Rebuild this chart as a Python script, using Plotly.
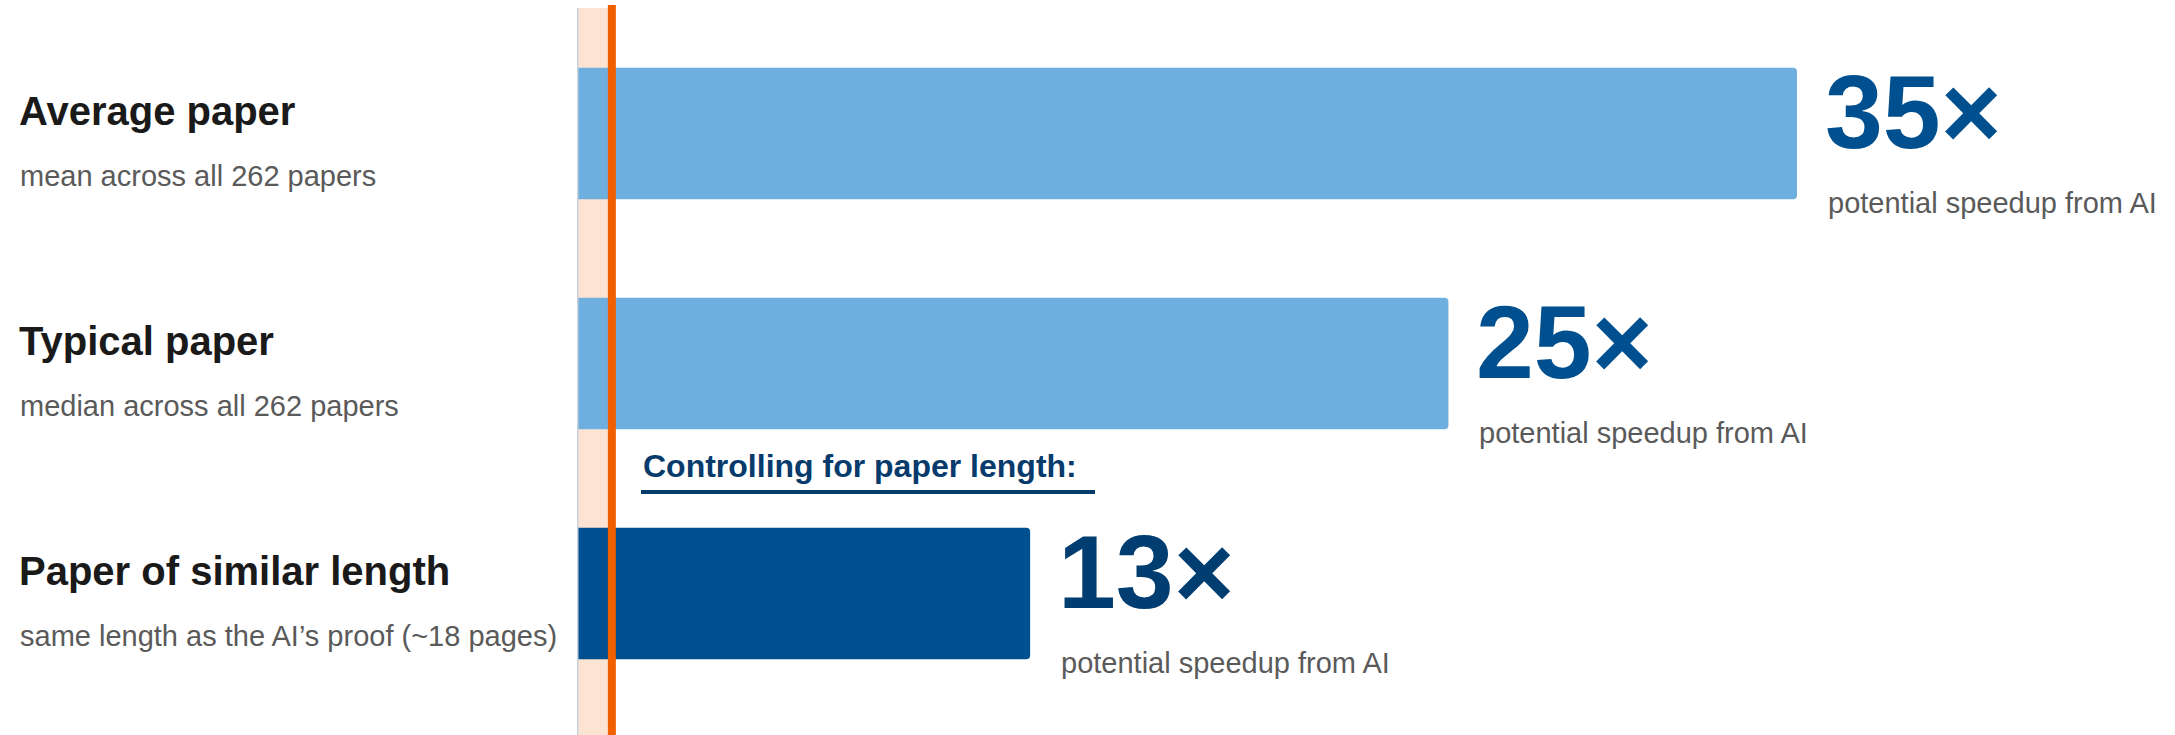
import plotly.graph_objects as go

# ---- data ----
categories = ["Average paper", "Typical paper", "Paper of similar length"]
subtitles = ["mean across all 262 papers", "median across all 262 papers",
             "same length as the AI\u2019s proof (~18 pages)"]
speedup = [35, 25, 13]
value_labels = ["35\u00d7", "25\u00d7", "13\u00d7"]
value_caption = "potential speedup from AI"
baseline_value = 1  # 1x = no speedup
group_label = "Controlling for paper length:"

# ---- style ----
W, H = 2175, 735
ML, MT = 577, 5
PX_PER_UNIT = 34.857
ROW_PX = 230.0
FIRST_CENTER = 133.5
FONT = "Liberation Sans, Arial, Helvetica, sans-serif"
bar_colors = ["#6FAFDF", "#6FAFDF", "#00508F"]
num_colors = ["#00508F", "#00508F", "#003D70"]
navy = "#073B6C"

xmax = (W - ML) / PX_PER_UNIT
ytop = -(FIRST_CENTER - MT) / ROW_PX
ybot = (len(categories) - 1) + (H - (FIRST_CENTER + ROW_PX * (len(categories) - 1))) / ROW_PX
ypos = list(range(len(categories)))

fig = go.Figure(go.Bar(
    x=speedup, y=ypos, orientation="h",
    marker=dict(color=bar_colors, line=dict(width=0)),
    width=0.572, hoverinfo="skip",
))

def mid_shift(baseline_off, fs):
    # convert desired baseline offset (px below row centre) into yshift for yanchor=middle
    return -(baseline_off - 0.3465 * fs)

ann = []
for i, (cat, sub, v, lab, col) in enumerate(zip(categories, subtitles, speedup, value_labels, num_colors)):
    ann.append(dict(x=0, xref="paper", y=i, yref="y", xanchor="left", yanchor="middle",
                    xshift=17 - ML, yshift=mid_shift(-9, 40), showarrow=False,
                    text=f"<b>{cat}</b>", font=dict(family=FONT, size=40, color="#1A1A1A")))
    ann.append(dict(x=0, xref="paper", y=i, yref="y", xanchor="left", yanchor="middle",
                    xshift=18 - ML, yshift=mid_shift(52.5, 29), showarrow=False,
                    text=sub, font=dict(family=FONT, size=29, color="#5A5A5A")))
    ann.append(dict(x=v, xref="x", y=i, yref="y", xanchor="left", yanchor="middle",
                    xshift=26, yshift=mid_shift(15, 104), showarrow=False,
                    text=f"<b>{lab}</b>", font=dict(family=FONT, size=104, color=col)))
    ann.append(dict(x=v, xref="x", y=i, yref="y", xanchor="left", yanchor="middle",
                    xshift=29, yshift=mid_shift(80, 29), showarrow=False,
                    text=value_caption, font=dict(family=FONT, size=29, color="#5A5A5A")))

# group heading above the last bar
last = len(categories) - 1
ann.append(dict(x=0, xref="x", y=last, yref="y", xanchor="left", yanchor="middle",
                xshift=64, yshift=mid_shift(477 - (FIRST_CENTER + ROW_PX * last), 32), showarrow=False,
                text=f"<b>{group_label}</b>", font=dict(family=FONT, size=32, color=navy)))

def px_to_x(px):
    return (px - ML) / PX_PER_UNIT

def py_to_y(py):
    return (py - FIRST_CENTER) / ROW_PX

shapes = [
    # shaded band from 0 to the 1x baseline
    dict(type="rect", xref="x", yref="paper", x0=0, x1=baseline_value, y0=0, y1=1 - 3 / (H - MT),
         fillcolor="#FCE3D2", line=dict(width=0), layer="below"),
    # axis line at zero
    dict(type="line", xref="x", yref="paper", x0=0, x1=0, y0=0, y1=1 - 3 / (H - MT),
         line=dict(color="#C8D2DE", width=3), layer="above"),
    # 1x reference line
    dict(type="line", xref="x", yref="paper", x0=baseline_value, x1=baseline_value, y0=0, y1=1,
         line=dict(color="#F06000", width=8), layer="above"),
    # underline for the group heading
    dict(type="line", xref="x", yref="y", x0=px_to_x(641), x1=px_to_x(1095),
         y0=py_to_y(492), y1=py_to_y(492), line=dict(color=navy, width=4), layer="above"),
]

fig.update_layout(
    width=W, height=H,
    margin=dict(l=ML, r=0, t=MT, b=0, pad=0),
    paper_bgcolor="white", plot_bgcolor="white",
    showlegend=False, barcornerradius=4,
    xaxis=dict(range=[0, xmax], visible=False, fixedrange=True),
    yaxis=dict(range=[ybot, ytop], visible=False, fixedrange=True),
    annotations=ann, shapes=shapes,
)

fig.write_html("out.html")
